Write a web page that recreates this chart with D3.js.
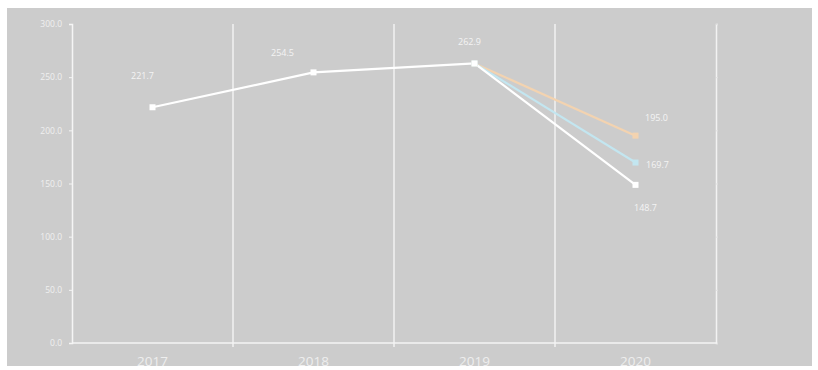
<!DOCTYPE html>
<html><head><meta charset="utf-8">
<script src="https://cdn.jsdelivr.net/npm/d3@7"></script>
<style>html,body{margin:0;padding:0;background:#fff}svg{display:block}</style>
</head><body>
<svg id="c" width="818" height="370"></svg>
<script>
const years = ["2017","2018","2019","2020"];
const baseValues = [221.7, 254.5, 262.9, 148.7];
const orangeValues = [null, null, 262.9, 195.0];
const blueValues = [null, null, 262.9, 169.7];
const yTicks = [0, 50, 100, 150, 200, 250, 300];

const svg = d3.select("#c");
svg.append("rect").attr("x",7).attr("y",8).attr("width",805).attr("height",358).attr("fill","#cccccc");

const x = d3.scaleBand().domain(years).range([72,716]).padding(0);
const y = d3.scaleLinear().domain([0,300]).range([343,24]);
const cx = d => x(d) + x.bandwidth()/2;

// vertical category separators
svg.append("g").selectAll("line").data(years.slice(1)).join("line")
  .attr("x1",d=>x(d)).attr("x2",d=>x(d)).attr("y1",y(300)).attr("y2",y(0)+4)
  .attr("stroke","#f2f2f2").attr("stroke-width",1.5);

// left axis
const yAxis = d3.axisLeft(y).tickValues(yTicks).tickSize(3).tickFormat(d3.format(".1f"));
const ga = svg.append("g").attr("transform","translate(72,0)").call(yAxis);
ga.select(".domain").attr("stroke","#f5f5f5").attr("stroke-width",1.5);
ga.selectAll(".tick line").attr("stroke","#f5f5f5");
ga.selectAll(".tick text").attr("fill","#f0f0f0").attr("font-family","Open Sans, sans-serif").attr("font-size",8.5).attr("x",-10);

// right axis
const yAxisR = d3.axisRight(y).tickValues(yTicks).tickSize(2).tickFormat("");
const gr = svg.append("g").attr("transform","translate(716,0)").call(yAxisR);
gr.select(".domain").attr("stroke","#f2f2f2").attr("stroke-width",1.5);
gr.selectAll(".tick line").attr("stroke","#e0e0e0");

// bottom axis
svg.append("line").attr("x1",72).attr("x2",717).attr("y1",y(0)).attr("y2",y(0)).attr("stroke","#f5f5f5").attr("stroke-width",1.5);
svg.append("g").selectAll("text").data(years).join("text")
  .attr("x",d=>cx(d)).attr("y",366).attr("text-anchor","middle")
  .attr("fill","#eeeeee").attr("font-family","Open Sans, sans-serif").attr("font-size",13.5)
  .text(d=>d);

const line = d3.line().defined(d=>d.v!=null).x(d=>cx(d.k)).y(d=>y(d.v));
const mk = arr => years.map((k,i)=>({k, v: arr[i]}));

const series = [
  {vals: orangeValues, color:"#f3d3b0"},
  {vals: blueValues, color:"#c3e6f0"},
  {vals: baseValues, color:"#ffffff"}
];
series.forEach(s=>{
  svg.append("path").datum(mk(s.vals)).attr("d",line)
    .attr("fill","none").attr("stroke",s.color).attr("stroke-width",2.2);
});
series.forEach(s=>{
  svg.append("g").selectAll("rect").data(mk(s.vals).filter(d=>d.v!=null)).join("rect")
    .attr("x",d=>cx(d.k)-3).attr("y",d=>y(d.v)-3).attr("width",6).attr("height",6)
    .attr("fill",s.color);
});

// data labels
const labels = [
  {k:"2017", v: baseValues[0], dx:-10, dy:-28},
  {k:"2018", v: baseValues[1], dx:-31, dy:-16},
  {k:"2019", v: baseValues[2], dx:-5, dy:-18},
  {k:"2020", v: orangeValues[3], dx:21, dy:-15},
  {k:"2020", v: blueValues[3], dx:22, dy:5},
  {k:"2020", v: baseValues[3], dx:10, dy:26}
];
svg.append("g").selectAll("text").data(labels).join("text")
  .attr("x",d=>cx(d.k)+d.dx).attr("y",d=>y(d.v)+d.dy).attr("text-anchor","middle")
  .attr("fill","#f4f4f4").attr("font-family","Open Sans, sans-serif").attr("font-size",9)
  .text(d=>d3.format(".1f")(d.v));
</script>
</body></html>
